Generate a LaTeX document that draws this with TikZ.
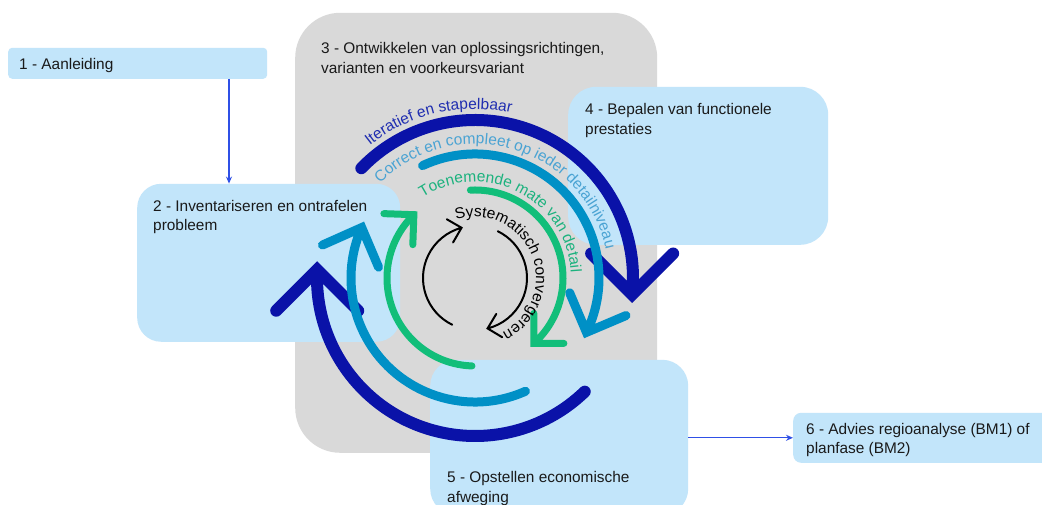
\documentclass[tikz,border=0pt]{standalone}
\usepackage{fontspec}
\setmainfont{Liberation Sans}
\usetikzlibrary{arrows.meta,decorations.text,calc}
\definecolor{boxblue}{HTML}{C2E5FA}
\definecolor{graybg}{HTML}{D9D9D9}
\definecolor{dkblue}{HTML}{0A12A8}
\definecolor{mdblue}{HTML}{0090C6}
\definecolor{greenarc}{HTML}{12BE7A}
\definecolor{dktext}{HTML}{1F2DB0}
\definecolor{mdtext}{HTML}{4AA3D3}
\definecolor{grtext}{HTML}{1CB27E}
\definecolor{conn}{HTML}{2F50E6}
\definecolor{txt}{HTML}{1A1A1A}
\newcommand\CycArrow[8]{%
  \draw[#1, line width=#2, line cap=round, line join=miter]
    ($(C)+(#4:#3pt)$) arc[start angle=#4, end angle=#5, radius=#3pt]
    ($(C)+(#5:#3pt)$) ++(#7:#6pt) -- ($(C)+(#5:#3pt)$) -- ++(#8:#6pt);
}
\newcommand\ArcText[5]{%
  \path[decorate, decoration={text along path, text align=left,
     text={|\fontsize{15.5}{18}\selectfont\color{#4}|#5}}]
    ($(C)+(#2:#1pt)$) arc[start angle=#2, end angle=#3, radius=#1pt];
}
\begin{document}
\begin{tikzpicture}[x=1pt,y=1pt,
  panel/.style={fill=#1, draw=none, inner sep=0pt, anchor=south west, rectangle},
  lbl/.style={anchor=base west, inner sep=0pt, align=left, text=txt, font=\fontsize{15.4}{19.5}\selectfont},
  link/.style={draw=conn, line width=1.3pt, -{Stealth[length=7pt,width=6pt]}}
]
\useasboundingbox (0,0) rectangle (1042,505);
\clip (0,0) rectangle (1042,505);
\fill[white] (0,0) rectangle (1042,505);

\node[panel=graybg, rounded corners=45pt, minimum width=362pt, minimum height=440pt] (b3) at (295,52) {};
\node[panel=boxblue, rounded corners=4pt, minimum width=259pt, minimum height=31pt] (b1) at (8,426) {};
\node[panel=boxblue, rounded corners=24pt, minimum width=263pt, minimum height=158pt] (b2) at (137,163) {};
\node[panel=boxblue, rounded corners=28pt, minimum width=260pt, minimum height=158pt] (b4) at (568,260) {};
\node[panel=boxblue, rounded corners=26pt, minimum width=258pt, minimum height=155pt] (b5) at (430,-10) {};
\node[panel=boxblue, rounded corners=8pt, minimum width=267pt, minimum height=50pt] (b6) at (793,42) {};

\node[lbl] (t1) at (19,435) {1 - Aanleiding};
\node[lbl] (t3) at (321,431.5) {3 - Ontwikkelen van oplossingsrichtingen,\\varianten en voorkeursvariant};
\node[lbl] (t2) at (153,274) {2 - Inventariseren en ontrafelen\\probleem};
\node[lbl] (t4) at (585,370.5) {4 - Bepalen van functionele\\prestaties};
\node[lbl] (t5) at (447,2.5) {5 - Opstellen economische\\afweging};
\node[lbl] (t6) at (806,51) {6 - Advies regioanalyse (BM1) of\\planfase (BM2)};

\coordinate (x1) at (229,0);
\draw[link] (b1.south -| x1) -- (b2.north -| x1);
\draw[link] (b6.west -| b5.east) -- (b6.west);

\coordinate (C) at (475,227);
\CycArrow{dkblue}{12pt}{158}{136}{-6}{58}{45}{135}
\CycArrow{dkblue}{12pt}{158}{314}{177}{58}{225}{315}
\CycArrow{mdblue}{9pt}{124}{115}{-26}{43}{23}{113}
\CycArrow{mdblue}{9pt}{124}{294}{156}{43}{204}{293}
\CycArrow{greenarc}{7pt}{88}{93}{-48}{30}{0}{90}
\CycArrow{greenarc}{7pt}{88}{268}{134}{30}{178}{268}
\CycArrow{black}{2pt}{52}{64}{-76}{17}{-31}{59}
\CycArrow{black}{2pt}{52}{244}{105}{17}{150}{240}

\ArcText{169}{128.5}{40}{dktext}{Iteratief en stapelbaar}
\ArcText{134}{135}{-10}{mdtext}{Correct en compleet op ieder detailniveau}
\ArcText{96}{123}{-20}{grtext}{Toenemende mate van detail}
\ArcText{61}{108}{-90}{black}{Systematisch convergeren}
\end{tikzpicture}
\end{document}
